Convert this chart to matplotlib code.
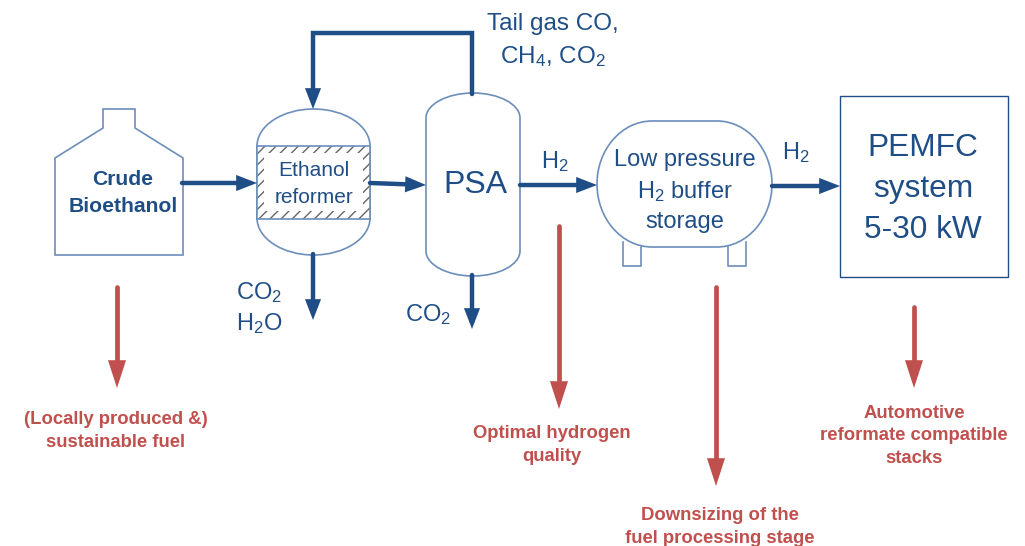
import matplotlib
matplotlib.use('Agg')
import matplotlib.pyplot as plt
from matplotlib.patches import PathPatch, Rectangle, FancyArrowPatch
from matplotlib.path import Path

BLUE = '#1f4e86'
EDGE = '#6c8ebb'
RED = '#c0504d'

# blue process flows, pixel coords of the reference
flows = [
    [(182, 183), (257, 183)],
    [(370, 183), (426, 185)],
    [(520, 185), (597, 185)],
    [(772, 186), (840, 186)],
    [(313, 254), (313, 320)],
    [(472, 275), (472, 329)],
    [(472, 94), (472, 33), (313, 33), (313, 109)],
]
# red annotation arrows
notes = [
    [(117, 287), (117, 388)],
    [(559, 226), (559, 409)],
    [(716, 287), (716, 486)],
    [(914, 307), (914, 388)],
]
unit_names = ['Crude\nBioethanol', 'Ethanol\nreformer', 'PSA',
              'Low pressure\nH$_2$ buffer\nstorage', 'PEMFC\nsystem\n5-30 kW']
stream_names = ['Tail gas CO,\nCH$_4$, CO$_2$', 'H$_2$', 'H$_2$', 'CO$_2$\nH$_2$O', 'CO$_2$']
note_names = ['(Locally produced &)\nsustainable fuel', 'Optimal hydrogen\nquality',
              'Downsizing of the\nfuel processing stage',
              'Automotive\nreformate compatible\nstacks']

plt.rcParams['font.family'] = 'Liberation Sans'
plt.rcParams['mathtext.default'] = 'regular'
plt.rcParams['hatch.linewidth'] = 1.0

fig = plt.figure(figsize=(10.25, 5.46), dpi=100)
ax = fig.add_axes([0, 0, 1, 1])
ax.set_xlim(0, 1025)
ax.set_ylim(546, 0)
ax.axis('off')


def outline(verts, codes, lw=1.2):
    ax.add_patch(PathPatch(Path(verts, codes), fc='white', ec=EDGE, lw=lw, zorder=2))


def vessel(x0, x1, y0, y1, dome):
    xm = (x0 + x1) / 2
    k = 0.55
    w = (x1 - x0) / 2
    verts = [(x0, y0 + dome), (x0, y0 + dome * (1 - k)), (xm - w * k, y0), (xm, y0),
             (xm + w * k, y0), (x1, y0 + dome * (1 - k)), (x1, y0 + dome),
             (x1, y1 - dome),
             (x1, y1 - dome * (1 - k)), (xm + w * k, y1), (xm, y1),
             (xm - w * k, y1), (x0, y1 - dome * (1 - k)), (x0, y1 - dome),
             (x0, y0 + dome)]
    codes = [Path.MOVETO] + [Path.CURVE4] * 6 + [Path.LINETO] + [Path.CURVE4] * 6 + [Path.CLOSEPOLY]
    outline(verts, codes)


# feed bottle
bottle = [(55, 158), (103, 128), (103, 109), (135, 109), (135, 128), (183, 158), (183, 255), (55, 255), (55, 158)]
outline(bottle, [Path.MOVETO] + [Path.LINETO] * 7 + [Path.CLOSEPOLY])

# reformer with catalyst band
vessel(257, 370, 109, 255, 37)
ax.add_patch(Rectangle((257, 146), 113, 73, fc='white', ec='#666666', hatch='///', lw=0, zorder=3))
ax.add_patch(Rectangle((264, 153), 99, 58, fc='white', ec='none', zorder=3))
ax.add_patch(Rectangle((257, 146), 113, 73, fc='none', ec=EDGE, lw=1.2, zorder=3))

# PSA column
vessel(426, 520, 93, 276, 25)

# buffer storage with legs
ax.plot([623, 623, 641, 641], [242, 266, 266, 247], color=EDGE, lw=1.2, zorder=1)
ax.plot([728, 728, 746, 746], [247, 266, 266, 242], color=EDGE, lw=1.2, zorder=1)
xa, xb, ya, yb = 597, 772, 121, 247
rx, ry = 55, 63
cx, cy = rx * 0.45, ry * 0.45
storage = [(xa, ya + ry), (xa, ya + cy), (xa + cx, ya), (xa + rx, ya), (xb - rx, ya),
           (xb - cx, ya), (xb, ya + cy), (xb, ya + ry),
           (xb, yb - cy), (xb - cx, yb), (xb - rx, yb), (xa + rx, yb),
           (xa + cx, yb), (xa, yb - cy), (xa, yb - ry), (xa, ya + ry)]
outline(storage, [Path.MOVETO, Path.CURVE4, Path.CURVE4, Path.CURVE4, Path.LINETO,
                  Path.CURVE4, Path.CURVE4, Path.CURVE4,
                  Path.CURVE4, Path.CURVE4, Path.CURVE4, Path.LINETO,
                  Path.CURVE4, Path.CURVE4, Path.CURVE4, Path.CLOSEPOLY])

# fuel cell box
ax.add_patch(Rectangle((840, 96), 168, 181, fc='white', ec=BLUE, lw=1.0, zorder=2))


def arrow(points, color, lw, cap, head_len, head_w):
    # body runs into the head, head is a filled triangle
    xs, ys = zip(*points)
    xs, ys = list(xs), list(ys)
    dx, dy = xs[-1] - xs[-2], ys[-1] - ys[-2]
    seg = (dx ** 2 + dy ** 2) ** 0.5
    xs[-1] -= dx / seg * 12
    ys[-1] -= dy / seg * 12
    ax.plot(xs, ys, color=color, lw=lw, solid_joinstyle='miter', solid_capstyle=cap, zorder=4)
    ax.add_patch(FancyArrowPatch(points[-2], points[-1],
                                 arrowstyle='-|>,head_length=%g,head_width=%g' % (head_len, head_w),
                                 mutation_scale=1, color=color, lw=0, shrinkA=0, shrinkB=0, zorder=4))


for f in flows:
    arrow(f, BLUE, 3.2, 'round', 15, 5.8)
for n in notes:
    arrow(n, RED, 3.4, 'round', 20, 6.5)


def label(x, y, s, size, color, weight='normal', spacing=1.35):
    ax.text(x, y, s, fontsize=size, color=color, fontweight=weight, ha='center', va='center',
            linespacing=spacing, zorder=5)


label(123, 193, unit_names[0], 15.2, BLUE, 'bold', 1.5)
label(314, 184, unit_names[1], 15, BLUE, spacing=1.55)
label(475, 185, unit_names[2], 23, BLUE)
label(685, 191, unit_names[3], 17, BLUE, spacing=1.4)
label(923, 189, unit_names[4], 22.8, BLUE, spacing=1.5)

label(553, 41, stream_names[0], 17.5, BLUE, spacing=1.45)
label(555, 162, stream_names[1], 17, BLUE)
label(796, 153, stream_names[2], 17, BLUE)
label(259, 308, stream_names[3], 17, BLUE, spacing=1.3)
label(428, 315, stream_names[4], 17, BLUE)

label(116, 431, note_names[0], 13.3, RED, 'bold', 1.4)
label(552, 445, note_names[1], 13.3, RED, 'bold', 1.45)
label(720, 527, note_names[2], 13.3, RED, 'bold', 1.4)
label(914, 436, note_names[3], 13.3, RED, 'bold', 1.45)

fig.savefig('out.png', dpi=100)
